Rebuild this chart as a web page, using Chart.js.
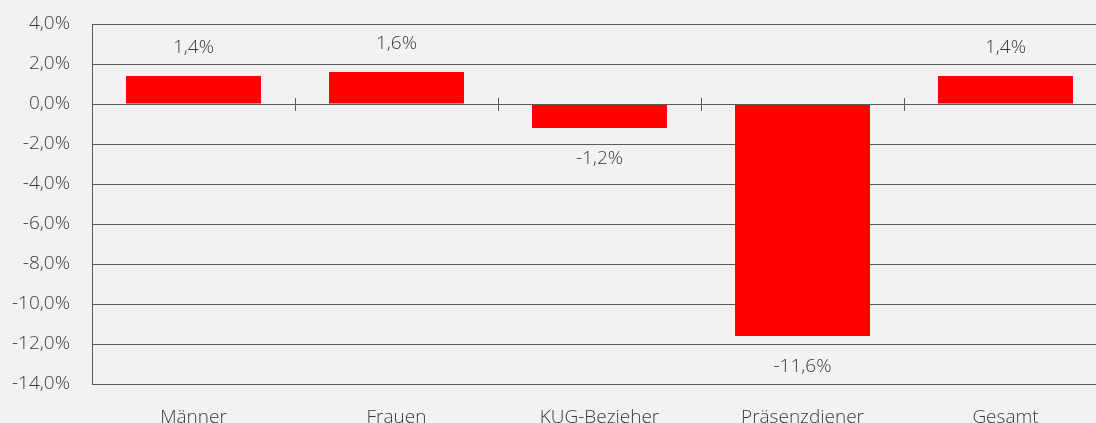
<!DOCTYPE html>
<html>
<head>
<meta charset="utf-8">
<script src="https://cdn.jsdelivr.net/npm/chart.js@4/dist/chart.umd.min.js"></script>
<style>
  html, body { margin: 0; padding: 0; background: #f2f2f2; overflow: hidden; }
  #wrap { width: 1120px; height: 423px; }
</style>
</head>
<body>
<div id="wrap"><canvas id="c" width="1120" height="423"></canvas></div>
<script>
const categories = ['Männer', 'Frauen', 'KUG-Bezieher', 'Präsenzdiener', 'Gesamt'];
const values = [1.4, 1.6, -1.2, -11.6, 1.4];
const valueLabels = ['1,4%', '1,6%', '-1,2%', '-11,6%', '1,4%'];
const yTicks = [4, 2, 0, -2, -4, -6, -8, -10, -12, -14];

const FONT = "'Open Sans', Roboto, 'Liberation Sans', sans-serif";
const TEXT = '#3a3a3a';
const GRID = '#5a5a5a';

const bgPlugin = {
  id: 'bg',
  beforeDraw(chart) {
    const ctx = chart.ctx;
    ctx.save();
    ctx.fillStyle = '#f2f2f2';
    ctx.fillRect(0, 0, chart.width, chart.height);
    ctx.restore();
  }
};

const zeroTicks = {
  id: 'zeroTicks',
  afterDatasetsDraw(chart) {
    const ctx = chart.ctx;
    const xs = chart.scales.x, ys = chart.scales.y;
    const y0 = ys.getPixelForValue(0);
    ctx.save();
    ctx.strokeStyle = GRID;
    ctx.lineWidth = 1;
    ctx.beginPath();
    ctx.moveTo(chart.chartArea.left, Math.round(y0) + 0.5);
    ctx.lineTo(chart.chartArea.right, Math.round(y0) + 0.5);
    ctx.stroke();
    for (let i = 0; i <= categories.length; i++) {
      const x = Math.round(xs.getPixelForValue(i - 0.5)) + 0.5;
      ctx.beginPath();
      ctx.moveTo(x, y0 - 6);
      ctx.lineTo(x, y0 + 7);
      ctx.stroke();
    }
    ctx.restore();
  }
};

const valueLabelPlugin = {
  id: 'valueLabels',
  afterDatasetsDraw(chart) {
    const ctx = chart.ctx;
    const meta = chart.getDatasetMeta(0);
    ctx.save();
    ctx.font = "300 19px " + FONT;
    ctx.fillStyle = TEXT;
    ctx.textAlign = 'center';
    ctx.textBaseline = 'middle';
    meta.data.forEach((bar, i) => {
      const v = values[i];
      const y = v >= 0 ? bar.y - 28 : bar.y + 31;
      ctx.fillText(valueLabels[i], bar.x, y);
    });
    ctx.restore();
  }
};

new Chart(document.getElementById('c'), {
  type: 'bar',
  data: {
    labels: categories,
    datasets: [{
      data: values,
      backgroundColor: '#ff0000',
      borderWidth: 0,
      categoryPercentage: 0.665,
      barPercentage: 1.0
    }]
  },
  options: {
    responsive: false,
    animation: false,
    devicePixelRatio: 1,
    layout: { padding: { top: 24, right: 13, left: 0, bottom: 0 } },
    plugins: { legend: { display: false }, tooltip: { enabled: false } },
    scales: {
      x: {
        grid: { display: false, drawTicks: false },
        border: { display: false },
        ticks: {
          color: TEXT,
          font: { family: FONT, size: 19, weight: 300 },
          padding: 22,
          maxRotation: 0
        },
        afterFit(scale) { scale.height = 39; scale.paddingLeft = 0; scale.paddingRight = 0; }
      },
      y: {
        min: yTicks[yTicks.length - 1],
        max: yTicks[0],
        afterBuildTicks(scale) { scale.ticks = yTicks.map(v => ({ value: v })); },
        grid: { color: GRID, lineWidth: 1, drawTicks: false },
        border: { display: true, color: GRID, width: 1 },
        ticks: {
          color: TEXT,
          font: { family: FONT, size: 19, weight: 300 },
          padding: 22,
          callback: v => v.toFixed(1).replace('.', ',') + '%'
        },
        afterFit(scale) { scale.width = 92; scale.paddingTop = 0; scale.paddingBottom = 0; }
      }
    }
  },
  plugins: [bgPlugin, zeroTicks, valueLabelPlugin]
});
</script>
</body>
</html>
